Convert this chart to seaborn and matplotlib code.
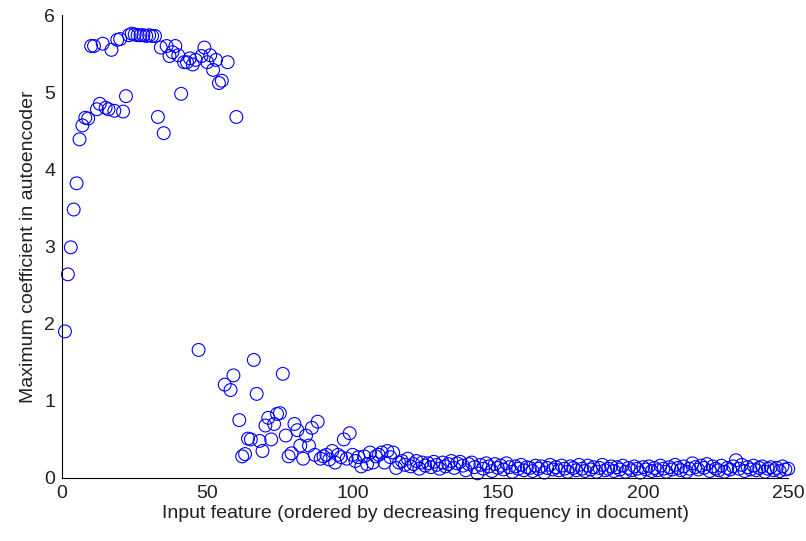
import numpy as np
import pandas as pd
import matplotlib
matplotlib.use("Agg")
import matplotlib.pyplot as plt
import seaborn as sns

# feature index (ordered by frequency) and max coefficient
feature_idx = list(range(1, 251))
max_coef = [
    1.90, 2.64, 2.99, 3.48, 3.82, 4.39, 4.57, 4.67, 4.66, 5.60,
    5.60, 4.78, 4.85, 5.63, 4.80, 4.78, 5.55, 4.76, 5.68, 5.69,
    4.75, 4.95, 5.74, 5.76, 5.75, 5.74, 5.74, 5.74, 5.73, 5.74,
    5.73, 5.73, 4.68, 5.58, 4.47, 5.60, 5.47, 5.52, 5.60, 5.48,
    4.98, 5.39, 5.39, 5.44, 5.36, 5.42, 1.66, 5.47, 5.58, 5.39,
    5.48, 5.29, 5.42, 5.12, 5.15, 1.21, 5.39, 1.14, 1.33, 4.68,
    0.75, 0.28, 0.31, 0.51, 0.50, 1.53, 1.09, 0.48, 0.35, 0.68,
    0.78, 0.50, 0.70, 0.83, 0.84, 1.35, 0.55, 0.28, 0.32, 0.70,
    0.62, 0.42, 0.25, 0.55, 0.42, 0.65, 0.30, 0.73, 0.25, 0.28,
    0.30, 0.24, 0.35, 0.20, 0.30, 0.27, 0.50, 0.25, 0.58, 0.30,
    0.22, 0.27, 0.15, 0.28, 0.18, 0.33, 0.20, 0.28, 0.30, 0.33,
    0.20, 0.35, 0.27, 0.33, 0.13, 0.20, 0.22, 0.17, 0.25, 0.15,
    0.18, 0.22, 0.12, 0.20, 0.16, 0.19, 0.14, 0.21, 0.17, 0.12,
    0.20, 0.15, 0.18, 0.22, 0.13, 0.19, 0.21, 0.16, 0.10, 0.18,
    0.20, 0.14, 0.06, 0.17, 0.12, 0.19, 0.15, 0.09, 0.18, 0.13,
    0.16, 0.11, 0.19, 0.14, 0.08, 0.15, 0.12, 0.17, 0.10, 0.14,
    0.13, 0.09, 0.16, 0.12, 0.15, 0.07, 0.13, 0.17, 0.11, 0.14,
    0.10, 0.16, 0.12, 0.08, 0.15, 0.13, 0.10, 0.17, 0.12, 0.09,
    0.16, 0.11, 0.14, 0.08, 0.13, 0.17, 0.10, 0.12, 0.15, 0.09,
    0.14, 0.11, 0.16, 0.08, 0.13, 0.10, 0.15, 0.12, 0.07, 0.14,
    0.11, 0.15, 0.09, 0.13, 0.10, 0.16, 0.12, 0.08, 0.14, 0.11,
    0.17, 0.13, 0.10, 0.15, 0.08, 0.12, 0.19, 0.14, 0.11, 0.16,
    0.13, 0.18, 0.09, 0.15, 0.12, 0.10, 0.16, 0.08, 0.13, 0.11,
    0.15, 0.23, 0.12, 0.17, 0.09, 0.14, 0.11, 0.16, 0.10, 0.13,
    0.15, 0.08, 0.12, 0.14, 0.10, 0.13, 0.09, 0.15, 0.11, 0.12,
]
x_ticks = [0, 50, 100, 150, 200, 250]
y_ticks = [0, 1, 2, 3, 4, 5, 6]

df = pd.DataFrame({"feature": feature_idx, "coef": max_coef})

sns.set_style("white")
plt.rcParams["font.family"] = ["Liberation Sans", "DejaVu Sans"]

fig = plt.figure(figsize=(8.06, 5.41), dpi=100)
ax = fig.add_axes([0.077, 0.1165, 0.901, 0.8555])

sns.scatterplot(data=df, x="feature", y="coef", ax=ax, marker="o", s=85,
                facecolors="none", edgecolor="#0000ff", linewidth=0.8,
                clip_on=False, legend=False)

ax.set_xlim(0, 250)
ax.set_ylim(0, 6)
ax.set_xticks(x_ticks)
ax.set_yticks(y_ticks)
ax.tick_params(direction="in", length=5, width=0.8, labelsize=14,
               colors="#222222", pad=5)
for side in ["top", "right"]:
    ax.spines[side].set_visible(False)
for side in ["left", "bottom"]:
    ax.spines[side].set_color("black")
    ax.spines[side].set_linewidth(0.8)

ax.set_xlabel("Input feature (ordered by decreasing frequency in document)",
              fontsize=14, labelpad=2, color="#222222")
ax.set_ylabel("Maximum coefficient in autoencoder", fontsize=14, labelpad=5,
              color="#222222")

fig.savefig("out.png", dpi=100)
